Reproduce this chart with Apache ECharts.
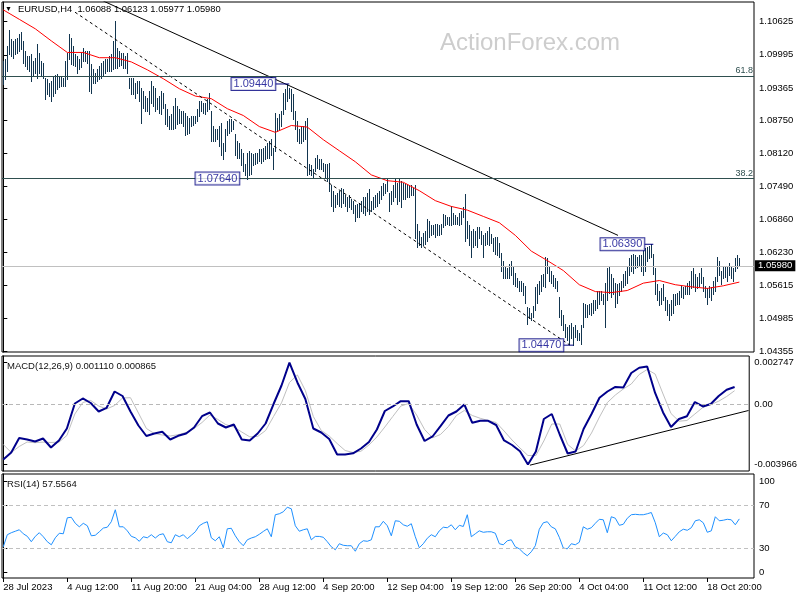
<!DOCTYPE html>
<html><head><meta charset="utf-8">
<script src="https://cdn.jsdelivr.net/npm/echarts@6/dist/echarts.min.js"></script>
<style>html,body{margin:0;padding:0;background:#fff}#c{width:800px;height:600px}</style>
</head><body><div id="c"></div>
<script>
// ---------- data ----------
const xTickIdx = [0,32,64,96,128,160,192,224,256,288,320,352];
const xTickLabels = ['28 Jul 2023','4 Aug 12:00','11 Aug 20:00','21 Aug 04:00','28 Aug 12:00','4 Sep 20:00','12 Sep 04:00','19 Sep 12:00','26 Sep 20:00','4 Oct 04:00','11 Oct 12:00','18 Oct 20:00'];
const priceTicks = [1.10625,1.09995,1.09365,1.08750,1.08120,1.07490,1.06860,1.06230,1.05615,1.04985,1.04355];
const macdTicks = [0.002747, 0, -0.003966];
const rsiTickPos = [93, 70, 30, 7];
const rsiTickLabels = ['100','70','30','0'];
const rsiLevels = [70, 30];

// H4 bar highs / lows, in 1/10000 of a price unit
const highs = [
10988,10992,11017,11047,11030,11026,11030,11032,11039,11043,
11026,11007,10998,10998,11001,10988,10994,11020,11003,10988,
10984,10956,10954,10946,10950,10960,10961,10963,10960,10958,
10956,10988,11003,11039,11032,11017,11001,10998,10992,11003,
11013,11007,11007,11007,10982,10973,10965,10973,10979,10984,
10988,10992,10992,10998,11001,11026,11064,11013,11007,11003,
11003,10998,11003,10956,10956,10956,10946,10950,10950,10937,
10931,10922,10918,10931,10950,10941,10937,10918,10922,10931,
10927,10906,10897,10884,10887,10903,10918,10903,10897,10893,
10893,10889,10884,10880,10884,10884,10884,10897,10912,10912,
10908,10908,10916,10927,10893,10864,10859,10859,10864,10870,
10832,10859,10874,10878,10878,10874,10849,10836,10832,10821,
10813,10792,10813,10817,10813,10811,10813,10813,10821,10821,
10823,10826,10832,10836,10840,10823,10889,10880,10887,10893,
10927,10935,10944,10937,10935,10925,10893,10874,10859,10864,
10864,10874,10880,10792,10789,10783,10804,10808,10802,10802,
10794,10792,10792,10794,10751,10741,10732,10737,10741,10747,
10745,10732,10728,10732,10726,10722,10713,10716,10718,10722,
10728,10728,10737,10745,10722,10728,10732,10737,10741,10749,
10756,10754,10766,10737,10741,10751,10764,10756,10764,10760,
10756,10754,10751,10751,10751,10747,10751,10678,10665,10652,
10661,10665,10688,10684,10675,10675,10678,10678,10675,10678,
10697,10694,10690,10690,10712,10699,10694,10690,10699,10703,
10709,10735,10684,10675,10665,10669,10665,10671,10671,10665,
10656,10661,10665,10671,10659,10650,10652,10652,10642,10623,
10608,10595,10593,10602,10608,10595,10585,10574,10570,10570,
10566,10560,10519,10517,10509,10522,10557,10564,10570,10580,
10583,10614,10612,10598,10589,10580,10574,10570,10538,10513,
10504,10488,10481,10485,10490,10481,10485,10475,10471,10485,
10528,10526,10523,10526,10528,10532,10532,10551,10551,10551,
10545,10566,10593,10598,10583,10574,10566,10564,10566,10570,
10583,10589,10595,10612,10618,10621,10618,10614,10618,10618,
10631,10631,10633,10635,10639,10621,10593,10564,10551,10555,
10564,10538,10532,10526,10532,10545,10545,10547,10551,10560,
10557,10560,10566,10570,10589,10593,10583,10576,10585,10593,
10576,10560,10555,10560,10557,10570,10576,10614,10608,10589,
10595,10598,10598,10604,10598,10593,10612,10618,10612];
const lows = [
10944,10954,10969,11001,10998,10994,11001,11003,11007,11011,
10984,10979,10973,10969,10950,10960,10965,10956,10965,10960,
10956,10916,10925,10922,10912,10922,10927,10935,10939,10941,
10941,10941,10954,10992,10982,10980,10979,10965,10973,10977,
10988,10988,10984,10931,10927,10946,10946,10950,10954,10956,
10960,10965,10969,10969,10969,10973,10975,10975,10979,10980,
10975,10975,10965,10937,10925,10925,10918,10927,10912,10870,
10899,10893,10893,10887,10908,10903,10893,10897,10889,10887,
10899,10868,10864,10859,10859,10859,10861,10868,10870,10870,
10864,10846,10849,10851,10864,10866,10870,10874,10884,10893,
10889,10887,10893,10897,10836,10836,10836,10840,10826,10808,
10802,10817,10846,10851,10855,10859,10808,10804,10804,10789,
10779,10770,10764,10770,10773,10789,10792,10794,10798,10794,
10798,10802,10804,10804,10808,10783,10817,10855,10859,10864,
10887,10897,10912,10918,10893,10878,10859,10836,10832,10832,
10836,10840,10770,10773,10770,10766,10779,10785,10783,10783,
10779,10766,10760,10741,10712,10703,10709,10716,10712,10709,
10718,10712,10703,10709,10707,10699,10684,10690,10690,10703,
10699,10694,10703,10697,10703,10707,10709,10712,10718,10726,
10732,10737,10741,10703,10716,10722,10728,10716,10722,10709,
10726,10726,10728,10728,10732,10732,10650,10633,10637,10633,
10637,10640,10646,10652,10656,10659,10652,10656,10656,10659,
10671,10675,10678,10675,10675,10678,10678,10678,10675,10678,
10690,10646,10650,10637,10614,10633,10637,10633,10650,10640,
10614,10637,10640,10637,10642,10627,10621,10618,10614,10589,
10574,10574,10574,10574,10580,10564,10560,10557,10551,10551,
10542,10528,10488,10498,10494,10500,10513,10528,10545,10551,
10560,10557,10585,10570,10566,10560,10555,10551,10500,10485,
10475,10462,10456,10450,10460,10447,10462,10456,10456,10450,
10481,10500,10500,10507,10504,10509,10513,10517,10526,10532,
10526,10481,10532,10547,10538,10545,10519,10528,10542,10551,
10557,10562,10566,10580,10589,10585,10593,10595,10598,10589,
10580,10589,10608,10612,10614,10583,10545,10532,10523,10526,
10532,10513,10504,10494,10504,10509,10523,10526,10526,10538,
10536,10545,10545,10545,10555,10557,10551,10555,10560,10566,
10551,10538,10526,10538,10532,10545,10551,10570,10580,10564,
10574,10576,10570,10580,10574,10570,10589,10593,10598];

// moving average (red), one value every 8 bars
const maStep = 8;
const ma = [1.1085,1.1067,1.1049,1.1026,1.1004,1.1004,1.0994,1.0994,1.0986,1.0971,1.0954,1.0935,1.0921,1.0916,1.0897,1.0884,1.0863,1.0852,1.0865,1.0862,1.0838,1.0817,1.0796,1.0771,1.0760,1.0757,1.0741,1.0722,1.0711,1.0704,1.0692,1.0680,1.0656,1.0626,1.0608,1.0589,1.0562,1.0549,1.0547,1.0551,1.0565,1.0570,1.0562,1.0558,1.0555,1.0560,1.0567];

// MACD(12,26,9), one value every 4 bars
const macdStep = 4;
const macd = [
-0.003642,-0.003183,-0.002234,-0.002332,-0.002463,-0.002266,-0.002856,-0.002397,-0.001611,0.000026,
0.000354,0.000059,-0.000498,-0.000255,0.000812,0.000517,-0.000498,-0.001415,-0.002103,-0.001939,
-0.001827,-0.002332,-0.002089,-0.001939,-0.001546,-0.000806,-0.000563,-0.001284,-0.001546,-0.001349,
-0.002332,-0.002397,-0.001939,-0.001284,-0.000007,0.001205,0.002700,0.001402,0.000321,-0.001611,
-0.001873,-0.002299,-0.003314,-0.003314,-0.003236,-0.002921,-0.002496,-0.001677,-0.000465,-0.000170,
0.000177,0.000177,-0.001349,-0.002430,-0.002135,-0.001461,-0.000760,-0.000498,-0.000039,-0.001238,
-0.001100,-0.001107,-0.001382,-0.002397,-0.002692,-0.003098,-0.003966,-0.003118,-0.000989,-0.000662,
-0.002004,-0.003249,-0.003118,-0.001644,-0.000662,0.000400,0.000812,0.001107,0.001074,0.002024,
0.002365,0.002450,0.000714,-0.000563,-0.001513,-0.000989,-0.000806,0.000124,-0.000170,-0.000007,
0.000517,0.000924,0.001110];
const signal = [
-0.002659,-0.003183,-0.002790,-0.002496,-0.002541,-0.002502,-0.002528,-0.002502,-0.002070,-0.000662,
0.000092,0.000223,-0.000138,-0.000334,-0.000105,0.000386,0.000406,-0.000596,-0.001611,-0.001939,
-0.002037,-0.002103,-0.002017,-0.001873,-0.001611,-0.001218,-0.000727,-0.001022,-0.001356,-0.001513,
-0.001841,-0.002155,-0.002135,-0.001742,-0.000825,0.000072,0.001402,0.001893,0.000878,-0.000825,
-0.001742,-0.002103,-0.002594,-0.003052,-0.003183,-0.003098,-0.002692,-0.002168,-0.001513,-0.000825,
-0.000144,0.000026,-0.000727,-0.001677,-0.002220,-0.002004,-0.001480,-0.000760,-0.000432,-0.000760,
-0.000943,-0.001087,-0.001218,-0.001775,-0.002365,-0.002889,-0.003380,-0.003380,-0.002430,-0.001317,
-0.001317,-0.002659,-0.003085,-0.002725,-0.001906,-0.000858,0.000092,0.000583,0.000976,0.001303,
0.001926,0.002253,0.001958,0.000648,-0.000629,-0.001133,-0.001087,-0.000662,-0.000236,-0.000039,
0.000177,0.000485,0.000865];

// RSI(14), one value every 2 bars
const rsiStep = 2;
const rsi = [
31.2,42.6,44.5,45.9,47.3,43.5,41.1,36.0,41.1,44.5,
40.7,36.0,33.1,39.7,44.0,43.5,58.6,59.1,53.4,50.1,
53.4,51.1,41.6,42.1,45.4,48.9,49.7,54.9,66.2,50.1,
50.1,46.3,41.1,39.7,36.4,40.7,39.7,42.6,39.5,42.6,
43.5,36.0,35.0,42.6,40.7,42.6,38.8,42.1,45.4,51.1,
53.4,54.9,39.7,36.9,40.7,30.3,48.2,48.7,41.6,36.0,
32.2,37.8,39.5,40.7,43.0,45.7,48.2,40.7,61.5,62.4,
64.3,68.6,67.1,51.1,45.9,47.3,48.2,37.8,41.0,41.0,
40.2,36.0,31.2,28.4,34.1,32.6,32.2,32.2,27.0,34.1,
36.9,36.4,37.8,50.1,50.1,55.3,51.1,41.6,55.8,55.3,
52.0,50.6,53.0,40.7,30.3,34.1,39.3,42.6,40.7,46.3,
49.7,49.2,52.0,47.3,51.5,50.4,61.5,40.7,43.5,46.3,
44.9,45.4,45.4,44.0,34.1,33.1,36.9,37.8,31.2,29.3,
25.6,22.7,26.5,32.2,47.8,53.9,54.9,50.1,48.2,40.2,
30.0,29.3,34.1,33.1,35.5,50.1,47.8,49.2,53.4,57.2,
56.7,44.5,59.6,58.2,51.5,52.5,58.2,61.5,61.9,61.5,
61.5,62.4,63.6,53.9,40.7,44.2,42.6,36.9,41.1,45.4,
47.8,46.8,49.2,55.8,56.7,53.9,44.9,46.3,59.6,55.8,
56.3,57.2,56.7,52.0,57.5564];

// levels & drawings
const fibLevels = [1.0959, 1.0764];
const fibLabels = ['61.8', '38.2'];
const lastPrice = 1.0598;
const annIdx = [143, 123, 325, 285];
const annPrice = [1.0944, 1.0764, 1.0639, 1.0447];
const annGapPx = [14, 10, 9, 10];
const trendSolid = [[50, 1.11019], [307.35, 1.06559]];
const trendDashed = [[35.85, 1.10806], [283.35, 1.0447]];
const macdTrend = [[265, -0.004015], [375, -0.000432]];

// ---------- chart ----------
const FONT = 'Liberation Sans, Arial, sans-serif';
const xMin = -0.65, xMax = 375.35;
const BAR = '#12354f';

const barData = highs.map((h, i) => [i, lows[i] / 10000, h / 10000]);
const maData = ma.map((v, k) => [k * maStep, v]);
const macdData = macd.map((v, k) => [k * macdStep, v]);
const sigData = signal.map((v, k) => [k * macdStep, v]);
const rsiData = rsi.map((v, k) => [k * rsiStep, v]);

const baseX = (g, show) => ({
  gridIndex: g, type: 'value', min: xMin, max: xMax, show: show,
  splitLine: { show: false }, axisLine: { show: false }
});
const tickStyle = { color: '#000', fontSize: 9.5, fontFamily: FONT };

const series = [
  { type: 'line', data: [], xAxisIndex: 0, yAxisIndex: 0, z: 1, silent: true,
    markLine: { symbol: ['none', 'none'], silent: true, animation: false, precision: 5,
      data: [
        { yAxis: fibLevels[0], lineStyle: { color: '#2f4f4f', type: 'solid', width: 1 },
          label: { show: true, formatter: fibLabels[0], position: 'insideEndTop', color: '#2f4f4f', fontSize: 9, fontFamily: FONT, distance: 1 } },
        { yAxis: fibLevels[1], lineStyle: { color: '#2f4f4f', type: 'solid', width: 1 },
          label: { show: true, formatter: fibLabels[1], position: 'insideEndTop', color: '#2f4f4f', fontSize: 9, fontFamily: FONT, distance: 1 } },
        { yAxis: lastPrice, lineStyle: { color: '#c0c0c0', type: 'solid', width: 1 },
          label: { show: true, formatter: lastPrice.toFixed(5), position: 'end', color: '#fff', backgroundColor: '#000', padding: [1, 3, 0, 3], fontSize: 9.5, fontFamily: FONT, distance: 1 } }
      ] } },
  { type: 'custom', xAxisIndex: 0, yAxisIndex: 0, z: 2, data: barData, encode: { x: 0, y: [1, 2] },
    renderItem: (params, api) => {
      const top = api.coord([api.value(0), api.value(2)]);
      const bot = api.coord([api.value(0), api.value(1)]);
      const x = Math.round(top[0]) + 0.5;
      return { type: 'line', shape: { x1: x, y1: Math.round(top[1]), x2: x, y2: Math.round(bot[1]) + 1 },
        style: { stroke: BAR, lineWidth: 1 } };
    } },
  { type: 'line', xAxisIndex: 0, yAxisIndex: 0, z: 3, data: maData, showSymbol: false, symbol: 'none',
    lineStyle: { color: '#ff0000', width: 1 } },
  { type: 'line', xAxisIndex: 0, yAxisIndex: 0, z: 3, data: trendSolid, showSymbol: false, symbol: 'none',
    lineStyle: { color: '#000', width: 1 } },
  { type: 'line', xAxisIndex: 0, yAxisIndex: 0, z: 3, data: trendDashed, showSymbol: false, symbol: 'none',
    lineStyle: { color: '#000', width: 1, type: [3, 3] } }
];
annIdx.forEach((idx, k) => {
  series.push({ type: 'line', xAxisIndex: 0, yAxisIndex: 0, z: 4, showSymbol: false, symbol: 'none',
    data: [[idx - annGapPx[k] / 2, annPrice[k]], [idx, annPrice[k]]],
    lineStyle: { color: '#000080', width: 1 } });
});
series.push({ type: 'scatter', xAxisIndex: 0, yAxisIndex: 0, z: 5, symbolSize: 0, silent: true,
  data: annIdx.map((idx, k) => ({ value: [idx, annPrice[k]], label: { distance: annGapPx[k] } })),
  label: { show: true, position: 'left', formatter: p => p.value[1].toFixed(5),
    color: '#00008b', backgroundColor: '#fff', borderColor: '#000080', borderWidth: 1,
    padding: [1, 2, 0, 2], fontSize: 11, lineHeight: 11, fontFamily: FONT } });

// MACD panel
series.push({ type: 'line', xAxisIndex: 1, yAxisIndex: 1, z: 2, data: sigData, showSymbol: false, symbol: 'none',
  lineStyle: { color: '#c0c0c0', width: 1 },
  markLine: { symbol: ['none', 'none'], silent: true, animation: false, precision: 6, label: { show: false },
    data: [{ yAxis: 0 }], lineStyle: { color: '#b8b8b8', type: [4, 3], width: 1 } } });
series.push({ type: 'line', xAxisIndex: 1, yAxisIndex: 1, z: 3, data: macdData, showSymbol: false, symbol: 'none',
  lineStyle: { color: '#00008b', width: 2 } });
series.push({ type: 'line', xAxisIndex: 1, yAxisIndex: 1, z: 4, data: macdTrend, showSymbol: false, symbol: 'none',
  lineStyle: { color: '#000', width: 1 } });

// RSI panel
series.push({ type: 'line', xAxisIndex: 2, yAxisIndex: 2, z: 3, data: rsiData, showSymbol: false, symbol: 'none',
  lineStyle: { color: '#1e90ff', width: 1 },
  markLine: { symbol: ['none', 'none'], silent: true, animation: false, precision: 2, label: { show: false },
    data: rsiLevels.map(v => ({ yAxis: v })), lineStyle: { color: '#c0c0c0', type: [4, 3], width: 1 } } });

const gridBase = { left: 2, width: 752, show: true, borderColor: '#000', borderWidth: 1, backgroundColor: '#fff' };
const option = {
  animation: false,
  backgroundColor: '#fff',
  textStyle: { fontFamily: FONT },
  title: [
    { text: '▼', left: 5, top: 6, padding: 0, textStyle: { fontSize: 7, color: '#000', fontWeight: 'normal' } },
    { text: 'EURUSD,H4  1.06088 1.06123 1.05977 1.05980', left: 18, top: 5, padding: 0,
      textStyle: { fontSize: 9.4, color: '#000', fontWeight: 'normal', fontFamily: FONT } },
    { text: 'ActionForex.com', left: 440, top: 31, padding: 0,
      textStyle: { fontSize: 24, color: '#cdcdcd', fontWeight: 'normal', fontFamily: FONT } },
    { text: 'MACD(12,26,9) 0.001110 0.000865', left: 7, top: 361, padding: 0,
      textStyle: { fontSize: 9.5, color: '#111', fontWeight: 'normal', fontFamily: FONT } },
    { text: 'RSI(14) 57.5564', left: 7, top: 479, padding: 0,
      textStyle: { fontSize: 9.5, color: '#111', fontWeight: 'normal', fontFamily: FONT } }
  ],
  grid: [
    Object.assign({ top: 2, height: 350 }, gridBase),
    Object.assign({ top: 356, height: 115 }, gridBase),
    Object.assign({ top: 474, height: 104 }, gridBase)
  ],
  xAxis: [
    baseX(0, false),
    baseX(1, false),
    Object.assign(baseX(2, true), {
      axisTick: { show: true, length: 4, customValues: xTickIdx, lineStyle: { color: '#000' } },
      axisLabel: Object.assign({ customValues: xTickIdx, align: 'left', margin: 4,
        formatter: v => xTickLabels[xTickIdx.indexOf(v)] || '' }, tickStyle)
    })
  ],
  yAxis: [
    { gridIndex: 0, type: 'value', position: 'right', min: 1.0434, max: 1.1100, splitLine: { show: false },
      axisLine: { show: true, lineStyle: { color: '#000' } },
      axisTick: { show: true, length: 4, customValues: priceTicks, lineStyle: { color: '#000' } },
      axisLabel: Object.assign({ customValues: priceTicks, margin: 5, formatter: v => v.toFixed(5) }, tickStyle) },
    { gridIndex: 1, type: 'value', position: 'right', min: -0.004395, max: 0.003137, splitLine: { show: false },
      axisLine: { show: true, lineStyle: { color: '#000' } },
      axisTick: { show: true, length: 4, customValues: macdTicks, lineStyle: { color: '#000' } },
      axisLabel: Object.assign({ customValues: macdTicks, margin: 5,
        formatter: v => (Math.abs(v) < 1e-9 ? '0.00' : v.toFixed(6)) }, tickStyle) },
    { gridIndex: 2, type: 'value', position: 'right', min: 1.7, max: 100, splitLine: { show: false },
      axisLine: { show: true, lineStyle: { color: '#000' } },
      axisTick: { show: true, length: 4, customValues: rsiTickPos, lineStyle: { color: '#000' } },
      axisLabel: Object.assign({ customValues: rsiTickPos, margin: 5,
        formatter: v => rsiTickLabels[rsiTickPos.indexOf(v)] || '' }, tickStyle) }
  ],
  series: series
};
const chart = echarts.init(document.getElementById('c'), null, { renderer: 'canvas' });
chart.setOption(option);
</script>
</body></html>
